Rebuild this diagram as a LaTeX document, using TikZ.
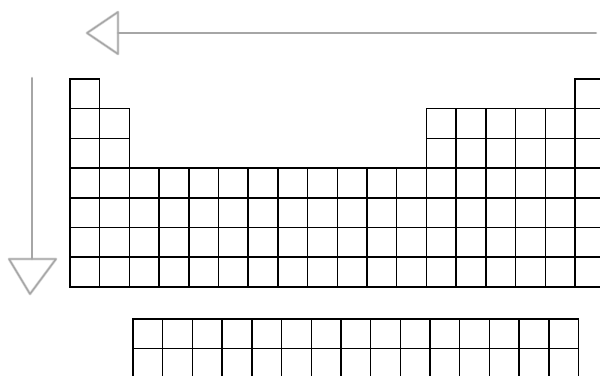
\documentclass[tikz,border=0pt]{standalone}
\usepackage{tikz}

\begin{document}
\begin{tikzpicture}[
    x=0.05cm, y=-0.05cm,
    cell/.style={rectangle, draw=black, line width=2pt, minimum size=1.485cm, inner sep=0pt, outer sep=0pt},
    halo/.style={draw=gray!30, line width=4pt, line cap=round, line join=round},
    pencil/.style={draw=gray!70, line width=2pt, line cap=round, line join=round}
]
    \useasboundingbox (0,0) rectangle (600,376);
    \clip (0,0) rectangle (600,376);

    % Period 1
    \foreach \c in {1,18}
        \node[cell] (cell-1-\c) at ({70+29.7*(\c-0.5)}, {79+29.7*0.5}) {};

    % Periods 2 and 3
    \foreach \r in {2,3}
        \foreach \c in {1,2,13,14,15,16,17,18}
            \node[cell] (cell-\r-\c) at ({70+29.7*(\c-0.5)}, {79+29.7*(\r-0.5)}) {};

    % Periods 4 to 7
    \foreach \r in {4,...,7}
        \foreach \c in {1,...,18}
            \node[cell] (cell-\r-\c) at ({70+29.7*(\c-0.5)}, {79+29.7*(\r-0.5)}) {};

    % f-block
    \foreach \r in {1,2}
        \foreach \c in {1,...,15}
            \node[cell] (f-\r-\c) at ({133+29.7*(\c-0.5)}, {319+29.7*(\r-0.5)}) {};

    % Pencil arrow along the top
    \coordinate (top-start) at (596,33);
    \coordinate (top-base) at (118,33);
    \coordinate (top-tip) at (87,33);
    \coordinate (top-up) at (118,12);
    \coordinate (top-down) at (118,54);
    \draw[halo] (top-start) -- (top-base);
    \draw[halo] (top-tip) -- (top-up) -- (top-down) -- cycle;
    \draw[pencil] (top-start) -- (top-base);
    \draw[pencil] (top-tip) -- (top-up) -- (top-down) -- cycle;

    % Pencil arrow down the left side
    \coordinate (left-start) at (32,78);
    \coordinate (left-base) at (32,259);
    \coordinate (left-tip) at (30,294);
    \coordinate (left-l) at (9,259);
    \coordinate (left-r) at (56,259);
    \draw[halo] (left-start) -- (left-base);
    \draw[halo] (left-tip) -- (left-l) -- (left-r) -- cycle;
    \draw[pencil] (left-start) -- (left-base);
    \draw[pencil] (left-tip) -- (left-l) -- (left-r) -- cycle;
\end{tikzpicture}
\end{document}
